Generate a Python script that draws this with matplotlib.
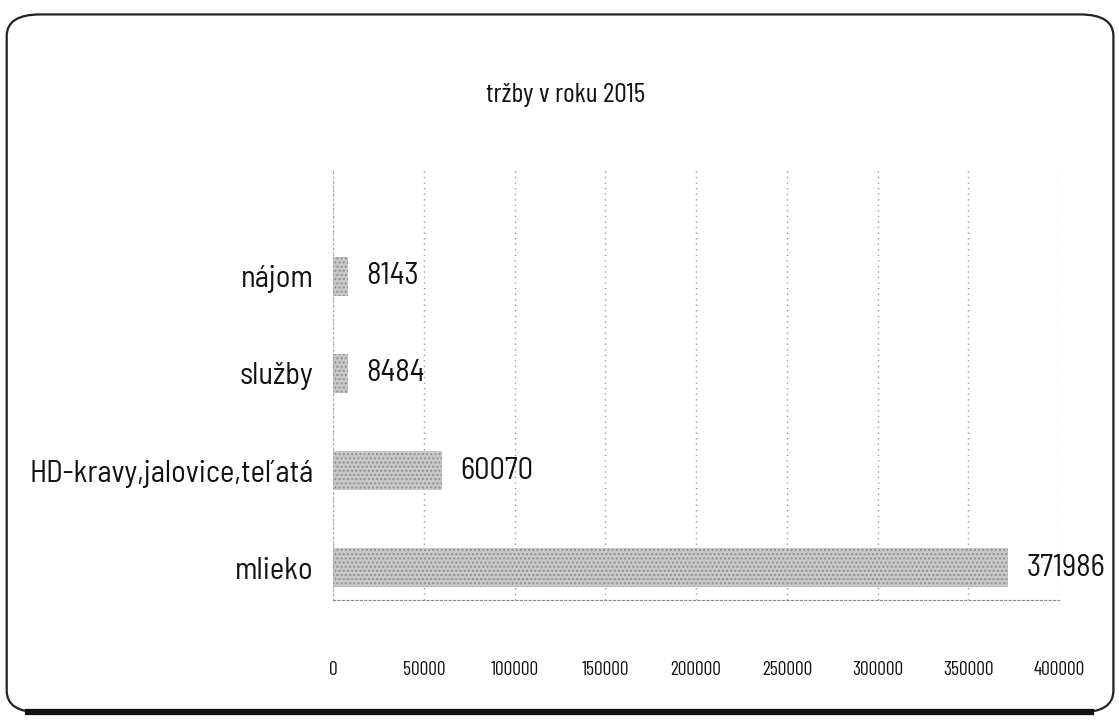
import matplotlib
matplotlib.use("Agg")
import matplotlib.pyplot as plt
from matplotlib.patches import FancyBboxPatch
from matplotlib.lines import Line2D

categories = ["mlieko", "HD-kravy,jalovice,teľatá", "služby", "nájom"]
values = [371986, 60070, 8484, 8143]
xticks = [0, 50000, 100000, 150000, 200000, 250000, 300000, 350000, 400000]
title = "tržby v roku 2015"

narrow = ["Barlow Semi Condensed", "DejaVu Sans"]
tickfont = ["Barlow Condensed", "DejaVu Sans"]

fig = plt.figure(figsize=(11.19, 7.21), dpi=100)
fig.patch.set_facecolor("white")

# rounded frame
frame = FancyBboxPatch((0.006, 0.012), 0.989, 0.968,
                       boxstyle="round,pad=0,rounding_size=0.03",
                       transform=fig.transFigure, fill=False,
                       edgecolor="#222222", linewidth=1.6, zorder=0)
fig.patches.append(frame)
fig.add_artist(Line2D([0.025, 0.975], [0.013, 0.013], transform=fig.transFigure,
                      color="#111111", linewidth=4.5))

ax = fig.add_axes([0.2976, 0.168, 0.649, 0.596])
pos = list(range(len(categories)))
ax.barh(pos, values, height=0.4, color="#c9c9c9", edgecolor="#8f8f8f",
        hatch="....", linewidth=0.0, zorder=2)

for p, v in zip(pos, values):
    ax.annotate(str(v), (v, p), xytext=(13, 0), textcoords="offset points",
                va="center", ha="left", fontsize=22, family=narrow, fontweight=400,
                color="#111111", annotation_clip=False)

ax.set_xlim(0, 400000)
ax.set_ylim(-0.33, 4.09)
ax.set_yticks(pos)
ax.set_yticklabels(categories, fontsize=22, family=narrow, fontweight=400, color="#111111")
ax.set_xticks(xticks)
ax.set_xticklabels([str(t) for t in xticks], fontsize=14, family=tickfont, color="#111111")
ax.tick_params(axis="x", length=0, pad=44)
ax.tick_params(axis="y", length=0, pad=14)

ax.grid(axis="x", color="#9a9a9a", linestyle=(0, (1, 3)), linewidth=1.0, zorder=1)
for s in ["top", "right"]:
    ax.spines[s].set_visible(False)
ax.spines["bottom"].set_color("#8a8a8a")
ax.spines["bottom"].set_linestyle((0, (2, 2)))
ax.spines["left"].set_color("#aaaaaa")
ax.spines["left"].set_linestyle((0, (1, 3)))

fig.text(0.505, 0.868, title, ha="center", va="center", fontsize=20,
         family=tickfont, color="#111111")

fig.savefig("out.png", dpi=100)
